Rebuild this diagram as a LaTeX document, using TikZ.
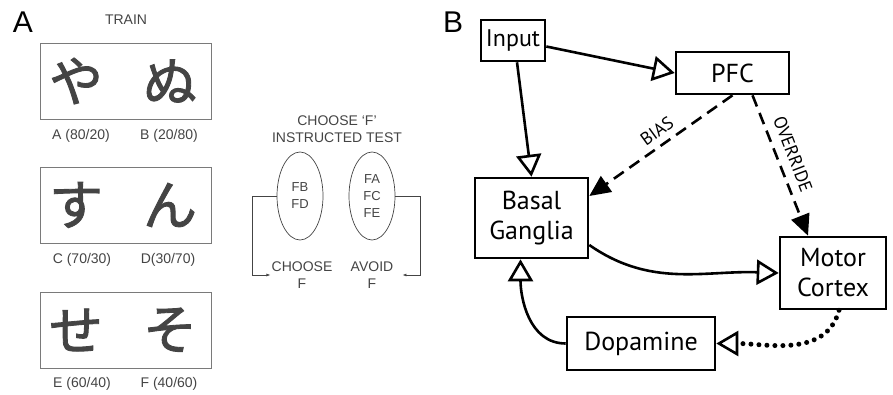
\documentclass[tikz,border=0pt]{standalone}
\usepackage{fontspec}
\usepackage{xcolor}
\setmainfont{Liberation Sans}
\newfontfamily\boxfont{PT Sans}
\newfontfamily\kanafont[FakeBold=1.6]{Noto Sans CJK JP}
\usetikzlibrary{arrows.meta,shapes.geometric}
\definecolor{inkgray}{HTML}{444444}
\definecolor{framegray}{HTML}{7A7A7A}

\begin{document}
\begin{tikzpicture}[x=1pt,y=-1pt]
\tikzset{kanabox/.style={draw=framegray,line width=0.9pt,minimum width=171pt,minimum height=76pt,inner sep=0pt}}
\tikzset{kana/.style={text=inkgray,font=\kanafont\fontsize{54}{54}\selectfont}}
\tikzset{cue/.style={text=inkgray,font=\fontsize{14}{17}\selectfont,align=center,inner sep=1pt}}
\tikzset{oval/.style={draw=inkgray,ellipse,line width=0.7pt,minimum width=46pt,minimum height=88pt,inner sep=0pt,align=center,text=inkgray,font=\fontsize{13}{17}\selectfont}}
\tikzset{region/.style={draw,line width=2.6pt,inner sep=2pt,font=\boxfont\fontsize{26}{30}\selectfont,align=center}}
\tikzset{feed/.style={line width=2.6pt,-{Triangle[open,length=22pt,width=25pt,line width=2.6pt]}}}
\tikzset{cmd/.style={line width=2.6pt,dash pattern=on 12pt off 7pt,-{Triangle[length=21pt,width=19pt]}}}
\tikzset{tag/.style={font=\boxfont\fontsize{18}{18}\selectfont,inner sep=0pt}}

\useasboundingbox (0,0) rectangle (893,395);

% panel A
\node[font=\fontsize{30}{30}\selectfont] (labA) at (23,22) {A};
\node[cue] (train) at (126,20) {TRAIN};

\node[kanabox] (box1) at (125.5,81) {};
\node[kanabox] (box2) at (125.5,205) {};
\node[kanabox] (box3) at (125.5,330) {};

\node[kana] (ya) at (76,81) {や};
\node[kana] (nu) at (170,81) {ぬ};
\node[kana] (su) at (76,205) {す};
\node[kana] (n) at (170,205) {ん};
\node[kana] (se) at (76,330) {せ};
\node[kana] (so) at (170,330) {そ};

\node[cue] (pa) at (81,136) {A (80/20)};
\node[cue] (pb) at (169,136) {B (20/80)};
\node[cue] (pc) at (82,260) {C (70/30)};
\node[cue] (pd) at (168,260) {D(30/70)};
\node[cue] (pe) at (82,384) {E (60/40)};
\node[cue] (pf) at (169,384) {F (40/60)};

\node[cue] (test) at (337,129) {CHOOSE ‘F’\\INSTRUCTED TEST};
\node[oval] (oval1) at (300,196) {FB\\FD};
\node[oval] (oval2) at (372,196) {FA\\FC\\FE};
\node[cue] (choose) at (302,275) {CHOOSE\\F};
\node[cue] (avoid) at (372,275) {AVOID\\F};

\draw[inkgray,line width=0.6pt,-{Latex[length=4pt,width=3pt]}] (oval1.west) -- ++(-24,0) |- (choose.west);
\draw[inkgray,line width=0.6pt,-{Latex[length=4pt,width=3pt]}] (oval2.east) -- ++(25,0) |- ([xshift=8pt]avoid.east);

% panel B
\node[font=\fontsize{30}{30}\selectfont] (labB) at (453,22) {B};

\node[region,minimum width=64pt,minimum height=41pt,font=\boxfont\fontsize{24}{28}\selectfont] (input) at (513,40.5) {Input};
\node[region,minimum width=113pt,minimum height=42pt] (pfc) at (732.5,73) {PFC};
\node[region,minimum width=113pt,minimum height=80pt] (bg) at (531.5,218) {Basal\\Ganglia};
\node[region,minimum width=106pt,minimum height=72pt] (mc) at (833,273) {Motor\\Cortex};
\node[region,minimum width=148pt,minimum height=53pt] (dop) at (641,343.5) {Dopamine};

\draw[feed] ([yshift=-6pt]input.east) -- (pfc.west);
\draw[feed] ([xshift=4pt]input.south) -- (bg.north);
\draw[cmd] (pfc.south) -- ([yshift=22pt]bg.east);
\draw[cmd] ([xshift=20pt]pfc.south) -- ([xshift=-25pt]mc.north);
\node[tag,rotate=36] (bias) at (657,131) {BIAS};
\node[tag,rotate=-69] (override) at (793,154) {OVERRIDE};
\draw[feed] ([yshift=-27pt]bg.east) to[out=-35,in=178] (mc.west);
\draw[feed] (dop.west) to[out=180,in=-90] ([xshift=-11pt]bg.south);
\draw[feed,dash pattern=on 0pt off 8pt,line cap=round,line width=5pt] ([xshift=6pt]mc.south) to[out=-105,in=0] (dop.east);

\end{tikzpicture}
\end{document}
